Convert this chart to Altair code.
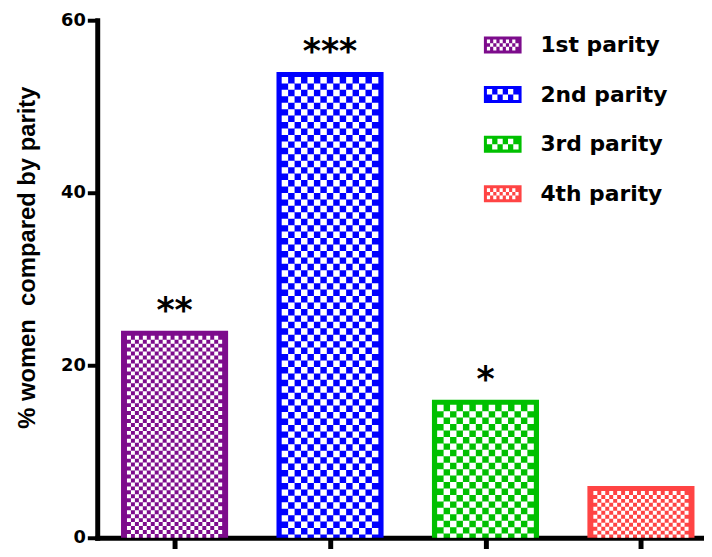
import altair as alt
import pandas as pd
import numpy as np

# ---- data ----
categories = ["1st parity", "2nd parity", "3rd parity", "4th parity"]
values = [24, 54, 16, 6]
stars = ["**", "***", "*", ""]
colors = ["#7D0C8C", "#0000FF", "#00C000", "#FF4444"]
y_ticks = [0, 20, 40, 60]

# ---- style constants ----
STEP_PX = 156.8          # px between bar centres
HALF = 54.0 / STEP_PX    # half bar width in x units
PLOT_W, PLOT_H = 612, 522
PX_PER_Y = PLOT_H / 60.0
BORDER = 5.0
CELL = {"1st parity": 4.0, "2nd parity": 6.5, "3rd parity": 6.5, "4th parity": 4.0}
X_DOMAIN = [-78.0 / STEP_PX, (PLOT_W - 78.0) / STEP_PX]

bars = pd.DataFrame({
    "parity": categories,
    "value": values,
    "idx": list(range(len(categories))),
    "star": stars,
})
bars["x0"] = bars["idx"] - HALF
bars["x1"] = bars["idx"] + HALF

# white checker columns drawn over each bar
rows = []
for i, (cat, v) in enumerate(zip(categories, values)):
    c = CELL[cat]
    inner = 2 * HALF * STEP_PX - 2 * BORDER
    n = int(inner // c)
    start = i - HALF + (BORDER + (inner - n * c) / 2) / STEP_PX
    for j in range(n):
        rows.append({
            "parity": cat,
            "cx": start + (j + 0.5) * c / STEP_PX,
            "top": v - BORDER / PX_PER_Y,
            "bottom": 0,
            "cell": c,
            "odd": j % 2,
        })
checks = pd.DataFrame(rows)


def swatch_path(cell, border=0.16, hy=0.45):
    parts = ["M-1,-%g H1 V%g H-1 Z" % (hy, hy)]
    x0, x1 = -1 + border, 1 - border
    y0, y1 = -hy + border, hy - border
    ny = max(1, int(round((y1 - y0) / cell)))
    nx = max(1, int(round((x1 - x0) / cell)))
    cw = (x1 - x0) / nx
    ch = (y1 - y0) / ny
    for r in range(ny):
        for k in range(nx):
            if (r + k) % 2 == 0:
                x = x0 + k * cw
                y = y0 + r * ch
                parts.append("M%.3f,%.3f V%.3f H%.3f V%.3f Z" % (x, y, y + ch, x + cw, y))
    return " ".join(parts)


shapes = [swatch_path(0.17), swatch_path(0.27), swatch_path(0.27), swatch_path(0.17)]

x_scale = alt.Scale(domain=X_DOMAIN, nice=False, zero=False)
y_scale = alt.Scale(domain=[0, 60], nice=False)
color_scale = alt.Scale(domain=categories, range=colors)
legend = alt.Legend(
    orient="none", legendX=390, legendY=6, title=None, padding=0,
    symbolSize=1444, symbolStrokeWidth=0, symbolOpacity=1,
    labelFont="DejaVu Sans", labelFontWeight="bold", labelFontSize=22,
    labelColor="black", labelOffset=19, rowPadding=20, labelLimit=300,
)

base = alt.Chart(bars)

bar_layer = base.mark_rect().encode(
    x=alt.X("x0:Q", scale=x_scale,
            axis=alt.Axis(values=[0, 1, 2, 3], labels=False, title=None, grid=False,
                          domainColor="black", domainWidth=5, domainCap="square",
                          tickColor="black", tickWidth=5, tickSize=11)),
    x2="x1:Q",
    y=alt.Y("value:Q", scale=y_scale,
            axis=alt.Axis(values=y_ticks, grid=False, title="% women\u00a0 compared by parity",
                          domainColor="black", domainWidth=5, domainCap="square",
                          tickColor="black", tickWidth=4, tickSize=10, labelPadding=2,
                          labelFont="DejaVu Sans", labelFontWeight="bold", labelFontSize=18,
                          labelColor="black",
                          titleFont="Liberation Sans", titleFontWeight="bold", titleFontSize=24,
                          titleColor="black", titleAngle=-90, titleX=-70, titleY=239,
                          titleAlign="center", titleBaseline="middle")),
    y2=alt.datum(0),
    color=alt.Color("parity:N", scale=color_scale, legend=legend),
)

check_layers = []
for c in sorted(set(CELL.values())):
    for odd in (0, 1):
        sub = checks[(checks["cell"] == c) & (checks["odd"] == odd)]
        check_layers.append(
            alt.Chart(sub).mark_rule(
                color="white", strokeWidth=c, strokeDash=[c, c],
                strokeDashOffset=(c if odd else 0), strokeCap="butt",
            ).encode(
                x=alt.X("cx:Q", scale=x_scale),
                y=alt.Y("top:Q", scale=y_scale),
                y2="bottom:Q",
            )
        )

legend_layer = base.mark_point(size=0, filled=True).encode(
    x=alt.X("idx:Q", scale=x_scale),
    y=alt.Y("value:Q", scale=y_scale),
    color=alt.Color("parity:N", scale=color_scale, legend=legend),
    shape=alt.Shape("parity:N", scale=alt.Scale(domain=categories, range=shapes), legend=legend),
)

star_layer = base.mark_text(
    font="DejaVu Sans", fontWeight="bold", fontSize=35, color="black",
    baseline="alphabetic", align="center", dy=-9,
).encode(
    x=alt.X("idx:Q", scale=x_scale),
    y=alt.Y("value:Q", scale=y_scale),
    text="star:N",
)

chart = alt.layer(bar_layer, *check_layers, legend_layer, star_layer).properties(
    width=PLOT_W, height=PLOT_H,
    background="white",
    autosize=alt.AutoSizeParams(type="none"),
    padding={"left": 90, "top": 10, "right": 0, "bottom": 9},
).configure_view(stroke=None)

chart.save("out.html", embed_options={"renderer": "svg", "actions": False})
